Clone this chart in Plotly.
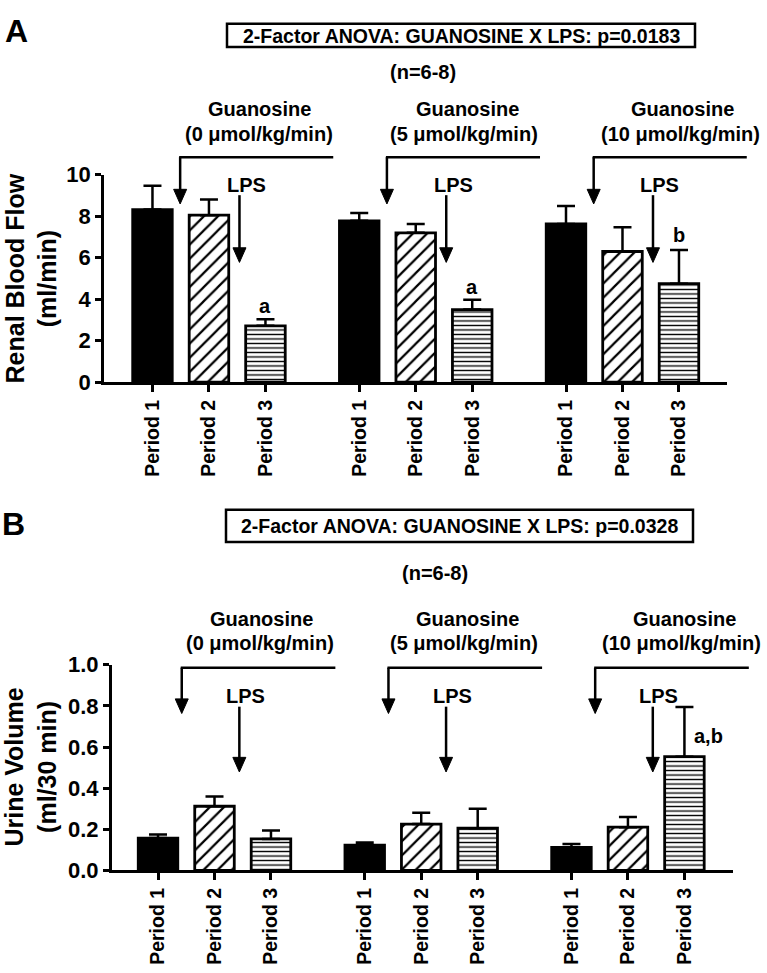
import plotly.graph_objects as go

W, H = 767, 973

# ---------------- data ----------------
doses = ["0", "5", "10"]
period_labels = ["Period 1", "Period 2", "Period 3"]

# Panel A: Renal blood flow (ml/min); one list per period, across doses 0,5,10
rbf_p1 = [8.32, 7.78, 7.63]
rbf_p2 = [8.05, 7.20, 6.30]
rbf_p3 = [2.72, 3.50, 4.75]
rbf_p1_sem = [1.15, 0.37, 0.86]
rbf_p2_sem = [0.75, 0.43, 1.17]
rbf_p3_sem = [0.31, 0.48, 1.62]
rbf_sig_p3 = ["a", "a", "b"]

# Panel B: Urine volume (ml/30 min)
uv_p1 = [0.157, 0.123, 0.112]
uv_p2 = [0.312, 0.225, 0.210]
uv_p3 = [0.153, 0.205, 0.553]
uv_p1_sem = [0.018, 0.013, 0.016]
uv_p2_sem = [0.047, 0.055, 0.050]
uv_p3_sem = [0.041, 0.095, 0.242]
uv_sig_p3 = ["", "", "a,b"]

y_ticks_a = [0, 2, 4, 6, 8, 10]
y_ticks_b = [0.0, 0.2, 0.4, 0.6, 0.8, 1.0]
y_ticktext_b = ["0.0", "0.2", "0.4", "0.6", "0.8", "1.0"]

anova_a = "2-Factor ANOVA: GUANOSINE X LPS: p=0.0183"
anova_b = "2-Factor ANOVA: GUANOSINE X LPS: p=0.0328"
n_text = "(n=6-8)"

# ---------------- layout helpers ----------------
GAP = 3.66      # distance between group starts (in bar-slot units)
BAR_W = 0.70
FONT = "Liberation Sans, Arial, sans-serif"
LW = 2.5


def fx(px):
    return px / W


def fy(py):
    return 1 - py / H


def bold(size):
    return dict(family=FONT, size=size, color="black", weight="bold")


panels = {
    "A": dict(xdom=(104, 727), xr=(-0.858, 10.17), ydom=(167, 380), yr=(0, 10),
              xa="x", ya="y"),
    "B": dict(xdom=(111.7, 733), xr=(-0.82, 10.18), ydom=(670, 881), yr=(0, 1.0),
              xa="x2", ya="y2"),
}


def data_to_px(panel, x):
    p = panels[panel]
    (d0, d1), (r0, r1) = p["xdom"], p["xr"]
    return d0 + (x - r0) / (r1 - r0) * (d1 - d0)


positions = [[g * GAP + p for g in range(len(doses))] for p in range(3)]

fig = go.Figure()

patterns = [
    dict(shape=""),
    dict(shape="/", size=10, solidity=0.22, fgcolor="black", bgcolor="white", fillmode="replace"),
    dict(shape="-", size=4.5, solidity=0.3, fgcolor="black", bgcolor="white", fillmode="replace"),
]
colors = ["black", "white", "white"]


def add_bars(panel, means, sems):
    p = panels[panel]
    for i in range(3):
        fig.add_trace(go.Bar(
            x=positions[i], y=means[i], width=BAR_W,
            marker=dict(color=colors[i], line=dict(color="black", width=2.8),
                        pattern=patterns[i]),
            error_y=dict(type="data", array=sems[i], arrayminus=[0] * len(sems[i]),
                         symmetric=False, color="black", thickness=LW, width=9),
            xaxis=p["xa"], yaxis=p["ya"], showlegend=False, hoverinfo="skip",
        ))


add_bars("A", [rbf_p1, rbf_p2, rbf_p3], [rbf_p1_sem, rbf_p2_sem, rbf_p3_sem])
add_bars("B", [uv_p1, uv_p2, uv_p3], [uv_p1_sem, uv_p2_sem, uv_p3_sem])

shapes = []
annotations = []


def line_px(x0, y0, x1, y1, w=LW):
    shapes.append(dict(type="line", xref="paper", yref="paper",
                       x0=fx(x0), y0=fy(y0), x1=fx(x1), y1=fy(y1),
                       line=dict(color="black", width=w)))


def arrow_px(x, ytop, ytip, hw=6.5, hh=15):
    line_px(x, ytop, x, ytip - hh + 1)
    path = "M {},{} L {},{} L {},{} Z".format(
        fx(x - hw), fy(ytip - hh), fx(x + hw), fy(ytip - hh), fx(x), fy(ytip))
    shapes.append(dict(type="path", xref="paper", yref="paper", path=path,
                       fillcolor="black", line=dict(color="black", width=1)))


def text_px(x, y, text, size=20, **kw):
    annotations.append(dict(xref="paper", yref="paper", x=fx(x), y=fy(y), text=text,
                            showarrow=False, font=bold(size), xanchor=kw.pop("xanchor", "center"),
                            yanchor=kw.pop("yanchor", "middle"), **kw))


def decorate(panel, cfg):
    text_px(cfg["letter_xy"][0], cfg["letter_xy"][1], panel, size=32)
    bx0, by0, bx1, by1 = cfg["box"]
    shapes.append(dict(type="rect", xref="paper", yref="paper",
                       x0=fx(bx0), y0=fy(by1), x1=fx(bx1), y1=fy(by0),
                       line=dict(color="black", width=LW), fillcolor="white"))
    text_px((bx0 + bx1) / 2, (by0 + by1) / 2 + 0.5, cfg["anova"], size=19.5)
    text_px(cfg["n_xy"][0], cfg["n_xy"][1], n_text, size=20)
    for g, dose in enumerate(doses):
        text_px(cfg["guan_x"][g], cfg["guan_y"], "Guanosine", size=20)
        text_px(cfg["dose_x"][g], cfg["dose_y"], "(" + dose + " \u03bcmol/kg/min)", size=20)
        ax = data_to_px(panel, g * GAP + cfg["off_g"])
        ex = data_to_px(panel, g * GAP + cfg["end_g"])
        line_px(ax - 1, cfg["brk_y"], ex, cfg["brk_y"])
        arrow_px(ax, cfg["brk_y"], cfg["brk_tip"])
        lx = data_to_px(panel, g * GAP + cfg["off_l"])
        arrow_px(lx, cfg["lps_top"], cfg["lps_tip"])
        text_px(lx + cfg["lps_dx"], cfg["lps_y"], "LPS", size=20)


decorate("A", dict(letter_xy=(16, 20), box=(227, 12, 695, 36), anova=anova_a,
                   n_xy=(422.5, 62), guan_x=[259, 467.5, 682], dose_x=[259, 464, 680],
                   guan_y=100, dose_y=125, off_g=0.49, end_g=3.2, brk_y=149, brk_tip=197,
                   off_l=1.54, lps_top=188, lps_tip=257, lps_y=178, lps_dx=7))
decorate("B", dict(letter_xy=(14, 525), box=(226, 511, 693, 544), anova=anova_b,
                   n_xy=(435, 576), guan_x=[261, 467.5, 684], dose_x=[260, 464, 681],
                   guan_y=623, dose_y=648, off_g=0.42, end_g=3.14, brk_y=673, brk_tip=720,
                   off_l=1.44, lps_top=713, lps_tip=780, lps_y=702, lps_dx=6))

# significance letters
for g, s in enumerate(rbf_sig_p3):
    if s:
        annotations.append(dict(xref="x", yref="y", x=positions[2][g], y=rbf_p3[g] + rbf_p3_sem[g],
                                text=s, showarrow=False, font=bold(20), yanchor="middle",
                                yshift=13 if s == "a" else 15))
for g, s in enumerate(uv_sig_p3):
    if s:
        annotations.append(dict(xref="x2", yref="y2", x=positions[2][g], y=uv_p3[g] + uv_p3_sem[g],
                                text=s, showarrow=False, font=bold(20), xanchor="left",
                                yanchor="middle", xshift=8, yshift=-29))

# y-axis titles (rotated)
text_px(31, 273.5, "Renal Blood Flow<br>(ml/min)", size=25, textangle=-90)
text_px(31, 775.5, "Urine Volume<br>(ml/30 min)", size=25, textangle=-90)

tickvals = [x for g in range(3) for x in [positions[p][g] for p in range(3)]]
ticktext = [period_labels[p] for g in range(3) for p in range(3)]


def xaxis(panel):
    p = panels[panel]
    return dict(domain=[fx(p["xdom"][0]), fx(p["xdom"][1])], range=list(p["xr"]),
                showgrid=False, zeroline=False, showline=True, linecolor="black", linewidth=LW,
                ticks="outside", ticklen=7, tickwidth=LW, tickcolor="black",
                tickvals=tickvals, ticktext=ticktext, tickangle=-90,
                tickfont=bold(19.5), fixedrange=True,
                anchor=p["ya"])


def yaxis(panel, tv, tt):
    p = panels[panel]
    return dict(domain=[fy(p["ydom"][1]), fy(p["ydom"][0])], range=list(p["yr"]),
                showgrid=False, zeroline=False, showline=True, linecolor="black", linewidth=LW,
                ticks="outside", ticklen=6, tickwidth=LW, tickcolor="black",
                tickvals=tv, ticktext=tt, tickfont=bold(22), fixedrange=True,
                anchor=p["xa"])


fig.update_layout(
    width=W, height=H, margin=dict(l=0, r=0, t=0, b=0),
    paper_bgcolor="white", plot_bgcolor="white",
    barmode="overlay", showlegend=False,
    xaxis=xaxis("A"), yaxis=yaxis("A", y_ticks_a, [str(v) for v in y_ticks_a]),
    xaxis2=xaxis("B"), yaxis2=yaxis("B", y_ticks_b, y_ticktext_b),
    shapes=shapes, annotations=annotations,
)

# remove the browser's default 8px page margin so the figure sits at the window origin
fig.write_html("out.html", config={"displayModeBar": False},
               post_script="document.body.style.margin='0';document.body.style.overflow='hidden';")
